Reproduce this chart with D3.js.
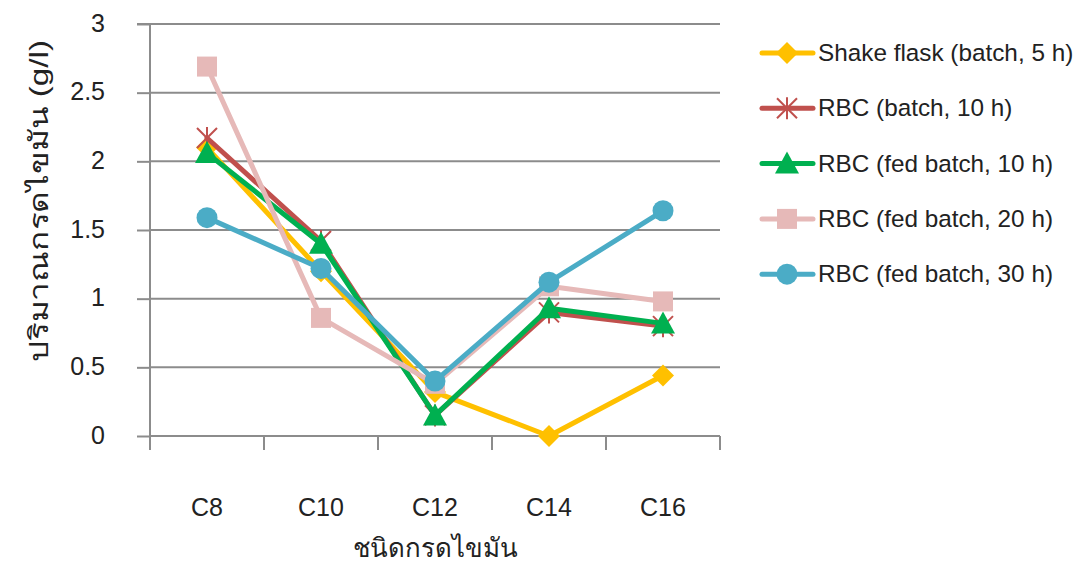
<!DOCTYPE html>
<html><head><meta charset="utf-8">
<script src="https://cdn.jsdelivr.net/npm/d3@7"></script>
<style>
body{margin:0;background:#fff;}
text{font-family:"Liberation Sans","Noto Sans",sans-serif;fill:#222;}
</style></head>
<body><svg id="chart" width="1084" height="563"></svg>
<script>
const categories = ["C8","C10","C12","C14","C16"];
const yTicks = [0,0.5,1,1.5,2,2.5,3];
const seriesNames = ["Shake flask (batch, 5 h)","RBC (batch, 10 h)","RBC (fed batch, 10 h)","RBC (fed batch, 20 h)","RBC (fed batch, 30 h)"];
const shakeFlask5h = [2.1, 1.2, 0.32, 0.0, 0.44];
const rbcBatch10h = [2.17, 1.42, 0.15, 0.9, 0.8];
const rbcFed10h = [2.06, 1.4, 0.15, 0.93, 0.82];
const rbcFed20h = [2.69, 0.86, 0.38, 1.09, 0.98];
const rbcFed30h = [1.59, 1.22, 0.4, 1.12, 1.64];
const seriesColors = ["#FFC000","#C0504D","#00B050","#E6B9B8","#4BACC6"];
const seriesMarkers = ["diamond","star","triangle","square","circle"];

const series = [shakeFlask5h, rbcBatch10h, rbcFed10h, rbcFed20h, rbcFed30h].map((v,i)=>({
  name: seriesNames[i], values: v, color: seriesColors[i], marker: seriesMarkers[i]}));

const svg = d3.select("#chart");
const plotLeft = 150, plotRight = 720, plotTop = 24, plotBottom = 436;

const x = d3.scaleBand().domain(categories).range([plotLeft,plotRight]);
const y = d3.scaleLinear().domain([0,3]).range([plotBottom,plotTop]);

// horizontal gridlines
svg.append("g").selectAll("line").data(yTicks.filter(d=>d>0)).join("line")
  .attr("x1",plotLeft).attr("x2",plotRight).attr("y1",d=>y(d)).attr("y2",d=>y(d))
  .attr("stroke","#8c8c8c").attr("stroke-width",2);

// y axis
const yAxis = svg.append("g").attr("transform",`translate(${plotLeft},0)`)
  .call(d3.axisLeft(y).tickValues(yTicks).tickSize(13).tickPadding(32).tickFormat(d3.format("")));
yAxis.select(".domain").attr("stroke","#8c8c8c").attr("stroke-width",2).attr("d",`M-13,${plotTop}H0V${plotBottom}`);
yAxis.selectAll(".tick line").attr("stroke","#8c8c8c").attr("stroke-width",2);
yAxis.selectAll(".tick text").style("font-size","25px").attr("fill","#222").attr("dy","0.28em");

// x axis
const xAxis = svg.append("g").attr("transform",`translate(0,${plotBottom})`)
  .call(d3.axisBottom(x).tickSize(0).tickPadding(62));
xAxis.select(".domain").attr("stroke","#8c8c8c").attr("stroke-width",2).attr("d",`M${plotLeft},0H${plotRight}`);
xAxis.selectAll(".tick text").style("font-size","25px").attr("fill","#222");
// category separators
const bounds = categories.map(c=>x(c)).concat([plotRight]);
xAxis.append("g").selectAll("line").data(bounds).join("line")
  .attr("x1",d=>d).attr("x2",d=>d).attr("y1",0).attr("y2",14)
  .attr("stroke","#8c8c8c").attr("stroke-width",2);

// axis titles
svg.append("text").attr("x",435).attr("y",557).attr("text-anchor","middle")
  .attr("textLength",165).attr("lengthAdjust","spacingAndGlyphs")
  .style("font-size","26px").text("ชนิดกรดไขมัน");
svg.append("text").attr("transform","translate(48,201) rotate(-90)").attr("text-anchor","middle")
  .attr("textLength",322).attr("lengthAdjust","spacingAndGlyphs")
  .style("font-size","26px").text("ปริมาณกรดไขมัน (g/l)");

function drawMarker(g, type, color){
  if(type==="diamond"){
    g.append("path").attr("d","M0,-11L11,0L0,11L-11,0Z").attr("fill",color);
  } else if(type==="star"){
    g.append("path").attr("d","M-10,-10L10,10M-10,10L10,-10M0,-11V11")
      .attr("stroke",color).attr("stroke-width",2).attr("fill","none");
  } else if(type==="triangle"){
    g.append("path").attr("d","M0,-12L12,10L-12,10Z").attr("fill",color);
  } else if(type==="square"){
    g.append("rect").attr("x",-10).attr("y",-10).attr("width",20).attr("height",20).attr("fill",color);
  } else {
    g.append("circle").attr("r",10.5).attr("fill",color);
  }
}

const line = d3.line().x((d,i)=>x(categories[i])+x.bandwidth()/2).y(d=>y(d));
series.forEach(s=>{
  const g = svg.append("g");
  g.append("path").attr("d",line(s.values)).attr("fill","none")
    .attr("stroke",s.color).attr("stroke-width",5).attr("stroke-linejoin","round").attr("stroke-linecap","round");
  s.values.forEach((v,i)=>{
    const m = g.append("g").attr("transform",`translate(${x(categories[i])+x.bandwidth()/2},${y(v)})`);
    drawMarker(m, s.marker, s.color);
  });
});

// legend
const legend = svg.append("g");
series.forEach((s,i)=>{
  const ly = 53 + i*55.3;
  const g = legend.append("g").attr("transform",`translate(0,${ly})`);
  g.append("line").attr("x1",762).attr("x2",813).attr("y1",0).attr("y2",0)
    .attr("stroke",s.color).attr("stroke-width",5).attr("stroke-linecap","round");
  const m = g.append("g").attr("transform","translate(787,0)");
  drawMarker(m, s.marker, s.color);
  g.append("text").attr("x",818).attr("y",8).style("font-size","24.3px").text(s.name);
});
</script></body></html>
